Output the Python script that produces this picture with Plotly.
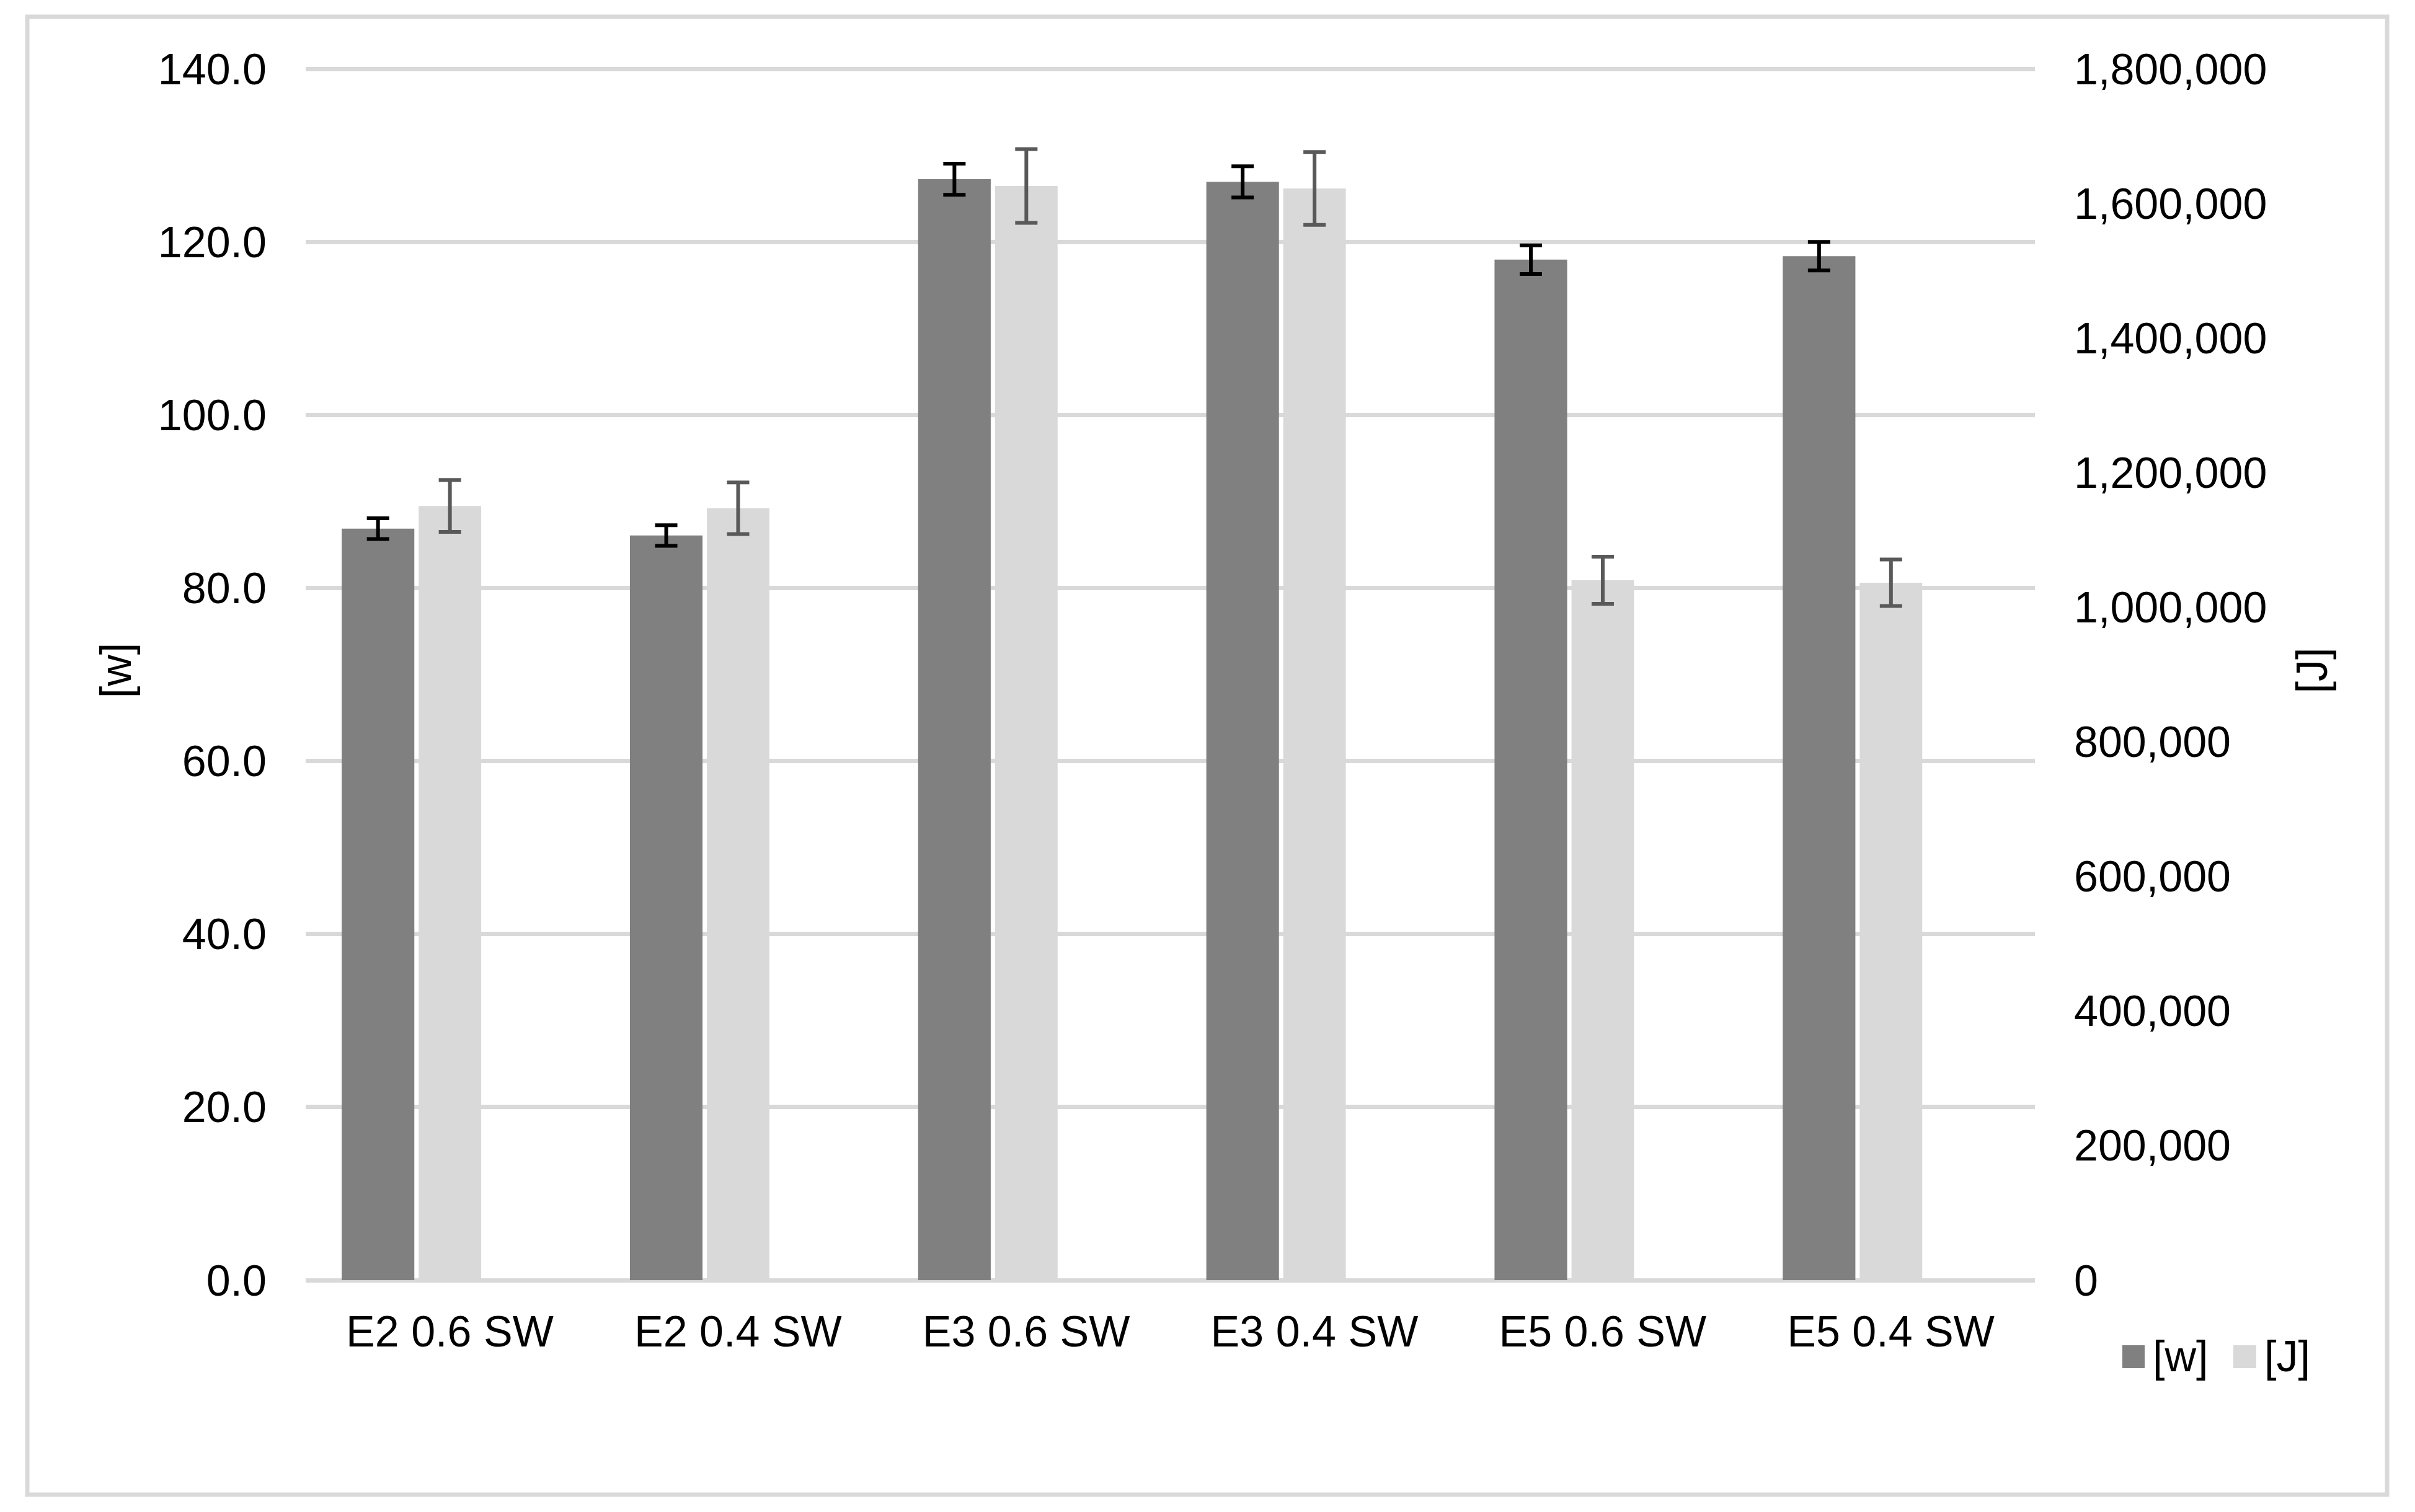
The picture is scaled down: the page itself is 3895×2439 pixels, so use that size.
import plotly.graph_objects as go

# ---- data ----
categories = ["E2 0.6 SW", "E2 0.4 SW", "E3 0.6 SW", "E3 0.4 SW", "E5 0.6 SW", "E5 0.4 SW"]
power_w = [86.9, 86.1, 127.3, 127.0, 118.0, 118.4]
power_w_err = [1.2, 1.2, 1.8, 1.8, 1.65, 1.65]
energy_j = [1151000, 1147500, 1626700, 1623000, 1040600, 1036900]
energy_j_err = [38700, 38300, 54800, 54100, 35000, 34600]
series_names = ["[w]", "[J]"]

W_MAX, J_MAX = 140, 1800000
HEADROOM = 1.0  # extra units above the top gridline so it is drawn

# ---- geometry (pixels) ----
W, H = 3895, 2439
PL, PR, PB = 493, 3282, 2065
PT_GRID = 112
PX_PER_UNIT = (PB - PT_GRID) / W_MAX
PT = PT_GRID - HEADROOM * PX_PER_UNIT
w_top = W_MAX + HEADROOM
j_top = J_MAX * w_top / W_MAX


def px_x(px):
    return (px - PL) / (PR - PL)


def px_y(py):
    return (PB - py) / (PB - PT)


DARK = "#808080"
LIGHT = "#d9d9d9"
GRID = "#d9d9d9"
FONT = "Arial, Liberation Sans, sans-serif"

fig = go.Figure()
fig.add_trace(go.Bar(
    x=categories, y=power_w, name=series_names[0],
    marker=dict(color=DARK, line=dict(width=0)),
    offset=-0.375, width=0.252,
    error_y=dict(type="data", array=power_w_err, visible=True,
                 color="#000000", thickness=6, width=18),
    yaxis="y",
))
fig.add_trace(go.Bar(
    x=categories, y=energy_j, name=series_names[1],
    marker=dict(color=LIGHT, line=dict(width=0)),
    offset=-0.108, width=0.217,
    error_y=dict(type="data", array=energy_j_err, visible=True,
                 color="#595959", thickness=6, width=18),
    yaxis="y2",
))

shapes = [
    # outer chart border
    dict(type="rect", xref="paper", yref="paper",
         x0=px_x(44), x1=px_x(3850), y0=px_y(2411), y1=px_y(27),
         line=dict(color=GRID, width=7), fillcolor="rgba(0,0,0,0)", layer="below"),
    # legend swatches
    dict(type="rect", xref="paper", yref="paper",
         x0=px_x(3423), x1=px_x(3459), y0=px_y(2207), y1=px_y(2170),
         line=dict(width=0), fillcolor=DARK),
    dict(type="rect", xref="paper", yref="paper",
         x0=px_x(3602), x1=px_x(3639), y0=px_y(2207), y1=px_y(2170),
         line=dict(width=0), fillcolor=LIGHT),
]
annotations = [
    dict(text=series_names[0], xref="paper", yref="paper", x=px_x(3470), y=px_y(2188),
         xanchor="left", yanchor="middle", showarrow=False,
         font=dict(family=FONT, size=70, color="#000000")),
    dict(text=series_names[1], xref="paper", yref="paper", x=px_x(3650), y=px_y(2188),
         xanchor="left", yanchor="middle", showarrow=False,
         font=dict(family=FONT, size=70, color="#000000")),
]

fig.update_layout(
    width=W, height=H,
    margin=dict(l=PL, r=W - PR, t=PT, b=H - PB, autoexpand=False),
    paper_bgcolor="white", plot_bgcolor="white",
    font=dict(family=FONT, size=70, color="#000000"),
    showlegend=False,
    barmode="overlay",
    shapes=shapes,
    annotations=annotations,
    xaxis=dict(type="category", range=[-0.5, 5.5], showgrid=False, zeroline=False,
               showline=False, ticks="", ticklabelstandoff=36,
               tickfont=dict(size=70)),
    yaxis=dict(range=[0, w_top], dtick=20, tick0=0, tickformat=".1f",
               showgrid=True, gridcolor=GRID, gridwidth=7,
               zeroline=True, zerolinecolor=GRID, zerolinewidth=7,
               showline=False, ticks="", ticklabelstandoff=62,
               tickfont=dict(size=70),
               title=dict(text="[w]", standoff=20, font=dict(size=70))),
    yaxis2=dict(range=[0, j_top], dtick=200000, tick0=0, tickformat=",d",
                overlaying="y", side="right", showgrid=False, zeroline=False,
                showline=False, ticks="", ticklabelstandoff=62,
                tickfont=dict(size=70),
                title=dict(text="[J]", standoff=48, font=dict(size=70))),
)

fig.write_html("out.html", config={"displayModeBar": False},
               post_script="document.body.style.margin='0px';")
